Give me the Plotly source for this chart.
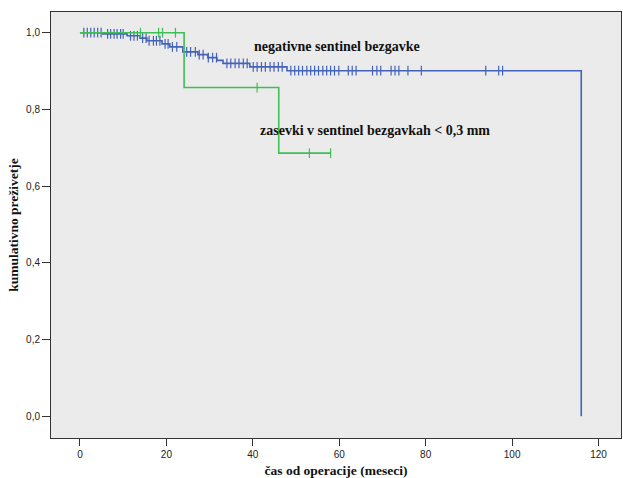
import numpy as np
import plotly.graph_objects as go

# ---- data ----
neg_times = [0, 5.3, 10.9, 13.9, 15.5, 19.0, 20.8, 23.8, 27.3, 29.6, 31.7, 33.1, 39.3, 47.9, 116.0]
neg_surv = [1.0, 0.997, 0.992, 0.986, 0.979, 0.971, 0.963, 0.950, 0.943, 0.935, 0.928, 0.920, 0.911, 0.901, 0.0]
neg_censor = [0.9, 1.7, 2.5, 3.3, 4.1, 4.9, 6.4, 7.1, 7.9, 8.6, 9.4, 10.0, 11.7, 12.5, 13.3,
              14.5, 15.3, 16.0, 17.0, 17.7, 18.5, 19.7, 20.4, 21.4, 22.4, 24.7, 25.6, 26.7,
              27.6, 28.5, 29.7, 30.7, 31.6, 34.0, 34.9, 35.9, 36.8, 37.8, 38.7, 40.1, 41.0,
              42.0, 42.9, 44.0, 44.9, 45.9, 46.8, 48.8, 49.7, 50.6, 51.5, 52.5, 53.4, 54.3,
              55.2, 56.2, 57.1, 58.0, 58.9, 59.9, 62.1, 63.0, 63.9, 67.7, 68.7, 69.6, 72.0,
              72.9, 73.8, 75.9, 79.0, 93.9, 96.9, 97.8]

pos_times = [0, 24.1, 46.0, 58.0]
pos_surv = [1.0, 0.857, 0.686, 0.686]
pos_censor = [14.0, 18.2, 19.1, 22.1, 41.0, 53.1, 58.0]

x_tickvals = [0, 20, 40, 60, 80, 100, 120]
x_ticktext = ["0", "20", "40", "60", "80", "100", "120"]
y_tickvals = [0.0, 0.2, 0.4, 0.6, 0.8, 1.0]
y_ticktext = ["0,0", "0,2", "0,4", "0,6", "0,8", "1,0"]

label_neg = "negativne sentinel bezgavke"
label_pos = "zasevki v sentinel bezgavkah < 0,3 mm"
x_title = "čas od operacije (meseci)"
y_title = "kumulativno preživetje"

BLUE = "#4463b8"
GREEN = "#3fbf55"


def surv_at(times, surv, t):
    idx = np.searchsorted(np.array(times), t, side="right") - 1
    return np.array(surv)[idx]


fig = go.Figure()

fig.add_trace(go.Scatter(x=neg_times, y=neg_surv, mode="lines", line=dict(color=BLUE, width=1.6, shape="hv"),
                         hoverinfo="skip", showlegend=False))
fig.add_trace(go.Scatter(x=neg_censor, y=surv_at(neg_times[:-1], neg_surv[:-1], np.array(neg_censor)),
                         mode="markers", marker=dict(symbol="line-ns", size=7, line=dict(color=BLUE, width=1.2)),
                         showlegend=False))
fig.add_trace(go.Scatter(x=pos_times, y=pos_surv, mode="lines", line=dict(color=GREEN, width=1.6, shape="hv"),
                         hoverinfo="skip", showlegend=False))
fig.add_trace(go.Scatter(x=pos_censor, y=surv_at(pos_times, pos_surv, np.array(pos_censor)),
                         mode="markers", marker=dict(symbol="line-ns", size=7, line=dict(color=GREEN, width=1.2)),
                         showlegend=False))

ann_font = dict(family="Liberation Serif", size=14, color="#111111")
fig.add_annotation(x=39.8, y=0.965, text="<b>" + label_neg + "</b>", showarrow=False,
                   xanchor="left", yanchor="middle", font=ann_font)
fig.add_annotation(x=41.2, y=0.746, text="<b>" + label_pos + "</b>", showarrow=False,
                   xanchor="left", yanchor="middle", font=ann_font)

fig.update_layout(
    width=623, height=478,
    margin=dict(l=51, r=2, t=12, b=40),
    paper_bgcolor="white",
    plot_bgcolor="#ebebeb",
    font=dict(family="Liberation Sans", size=10, color="#222222"),
    xaxis=dict(range=[-6.7, 125.2], tickvals=x_tickvals, ticktext=x_ticktext,
               showgrid=False, zeroline=False, showline=True, linecolor="#333333", linewidth=1,
               mirror=True, ticks="outside", ticklen=7, tickcolor="#333333",
               title=dict(text="<b>" + x_title + "</b>", font=dict(family="Liberation Serif", size=13.5, color="#111111"),
                          standoff=6)),
    yaxis=dict(range=[-0.0566, 1.054], tickvals=y_tickvals, ticktext=y_ticktext,
               showgrid=False, zeroline=False, showline=True, linecolor="#333333", linewidth=1,
               mirror=True, ticks="outside", ticklen=8, tickcolor="#333333",
               title=dict(text="<b>" + y_title + "</b>", font=dict(family="Liberation Serif", size=13.5, color="#111111"),
                          standoff=4)),
)

fig.write_html("out.html")
